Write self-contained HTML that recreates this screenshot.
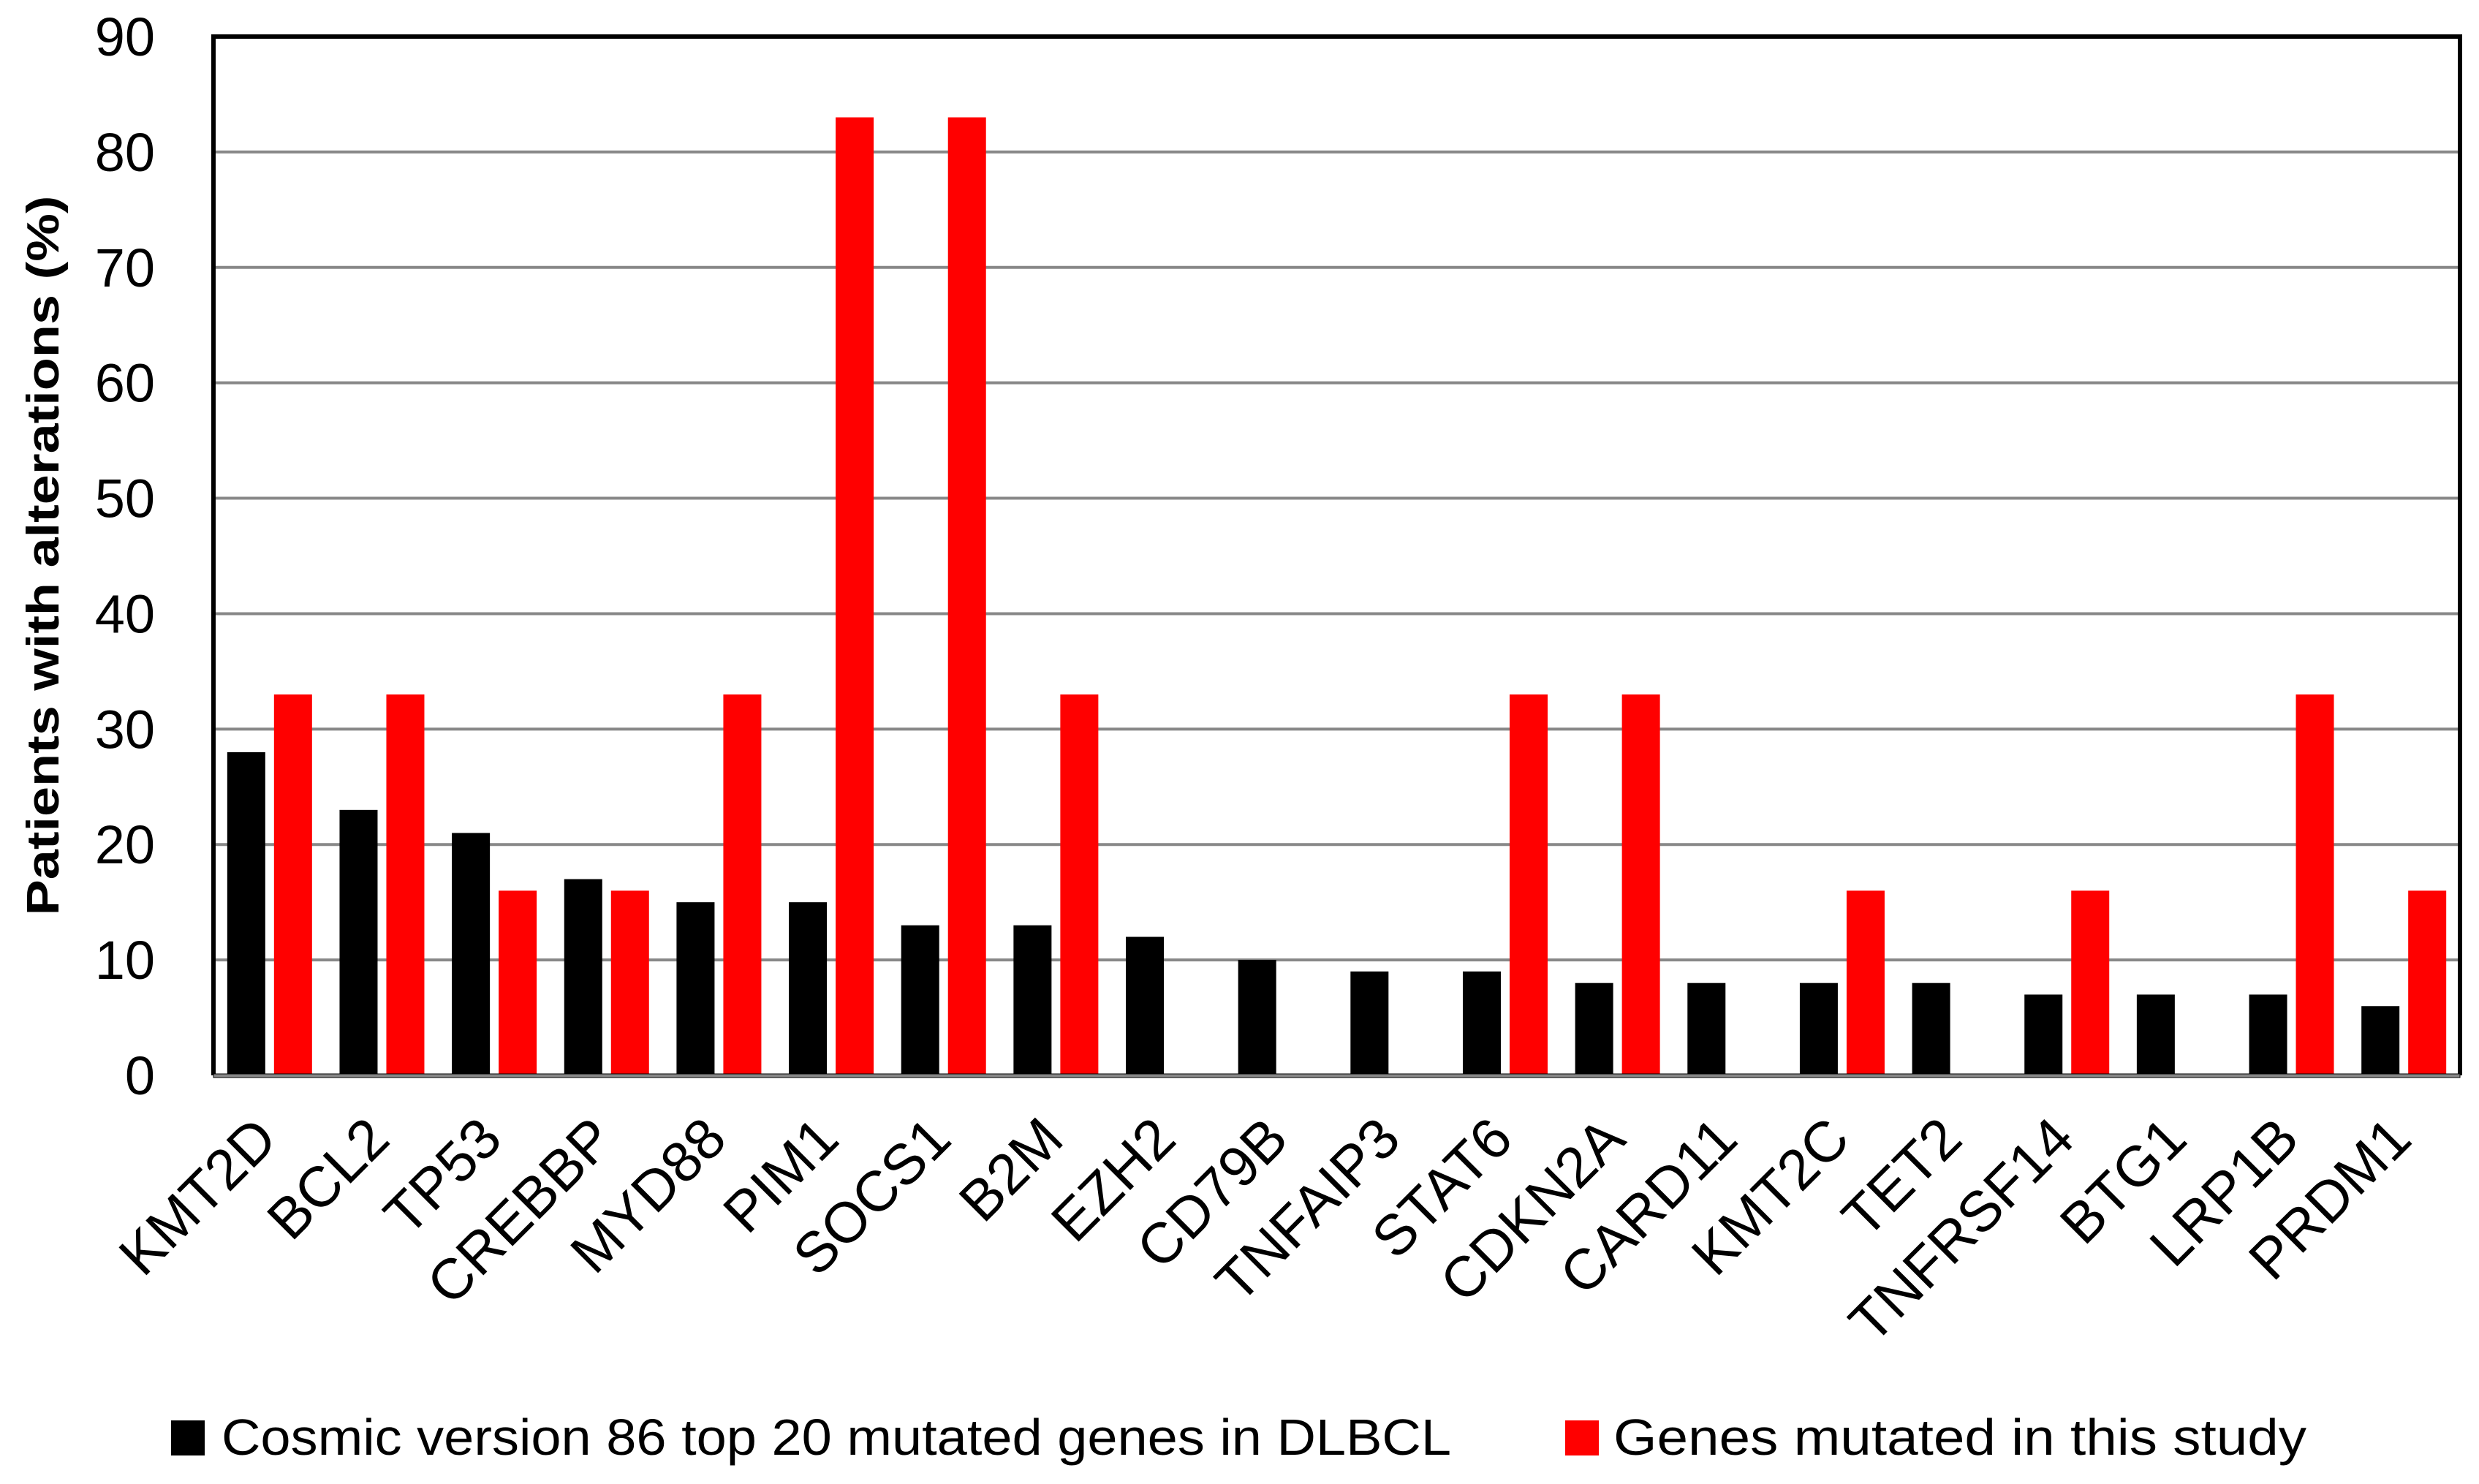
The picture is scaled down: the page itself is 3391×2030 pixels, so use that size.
<!DOCTYPE html>
<html><head><meta charset="utf-8"><style>
html,body{margin:0;padding:0;background:#fff;}
svg{display:block;font-family:"Liberation Sans",sans-serif;}
</style></head><body>
<svg id="chart" width="3391" height="2030" viewBox="0 0 3391 2030" xmlns="http://www.w3.org/2000/svg">
<g id="grid"></g>
<g id="bars"></g>
<g id="axes"></g>
<g id="yticks"></g>
<g id="xticks"></g>
<text x="0" y="0" transform="translate(80,760) rotate(-90)" text-anchor="middle" font-weight="bold" font-size="62" textLength="985" lengthAdjust="spacingAndGlyphs">Patients with alterations (%)</text>
<g>
<rect x="234" y="1943" width="46" height="48" fill="#000"/>
<text x="303" y="1990" font-size="70" textLength="1682" lengthAdjust="spacingAndGlyphs">Cosmic version 86 top 20 mutated genes in DLBCL</text>
<rect x="2141" y="1943" width="46" height="48" fill="#ff0000"/>
<text x="2207" y="1990" font-size="70" textLength="948" lengthAdjust="spacingAndGlyphs">Genes mutated in this study</text>
</g>
</svg>
<script>
const categories = ["KMT2D","BCL2","TP53","CREBBP","MYD88","PIM1","SOCS1","B2M","EZH2","CD79B","TNFAIP3","STAT6","CDKN2A","CARD11","KMT2C","TET2","TNFRSF14","BTG1","LRP1B","PRDM1"];
const cosmicValues = [28,23,21,17,15,15,13,13,12,10,9,9,8,8,8,8,7,7,7,6];
const studyValues = [33,33,16,16,33,83,83,33,0,0,0,33,33,0,16,0,16,0,33,16];
const yTicks = [0,10,20,30,40,50,60,70,80,90];

const NS="http://www.w3.org/2000/svg";
const L=292,R=3365,T=50,B=1471,YMAX=90;
const y=v=>B-(v/YMAX)*(B-T);
const band=(R-L)/categories.length;
const xc=i=>L+band*(i+0.5);
const BW=52,GAP=12;
function mk(tag,attrs,parent){const e=document.createElementNS(NS,tag);for(const k in attrs)e.setAttribute(k,attrs[k]);parent.appendChild(e);return e;}
const grid=document.getElementById('grid'),bars=document.getElementById('bars'),axes=document.getElementById('axes'),yt=document.getElementById('yticks'),xt=document.getElementById('xticks');
yTicks.forEach(t=>{
  if(t>0&&t<YMAX){const g=mk('line',{x1:L,x2:R,y1:y(t),y2:y(t),stroke:'#888',"stroke-width":4},grid);
  
  }
  const tx=mk('text',{x:212,y:y(t)+26,"text-anchor":"end","font-size":74},yt);
  tx.textContent=t;
  
  
});
categories.forEach((c,i)=>{
  const cx=xc(i);
  const b1=mk('rect',{x:cx-GAP/2-BW,y:y(cosmicValues[i]),width:BW,height:B-y(cosmicValues[i]),fill:'#000'},bars);
  
  
  if(studyValues[i]>0){
    const b2=mk('rect',{x:cx+GAP/2,y:y(studyValues[i]),width:BW,height:B-y(studyValues[i]),fill:'#ff0000'},bars);
    
    
  }
  const t=mk('text',{x:0,y:0,"text-anchor":"end","font-size":78,transform:`translate(${cx+14},${1562}) rotate(-45)`},xt);
  t.textContent=c;
  
  
});
const fr=mk('path',{d:`M${L},${B} L${L},${T} L${R},${T} L${R},${B}`,fill:'none',stroke:'#000',"stroke-width":6},axes);


const xa=mk('rect',{x:L,y:B-2,width:R-L,height:5,fill:'#888',stroke:'#000',"stroke-width":1},axes);


</script>
</body></html>
